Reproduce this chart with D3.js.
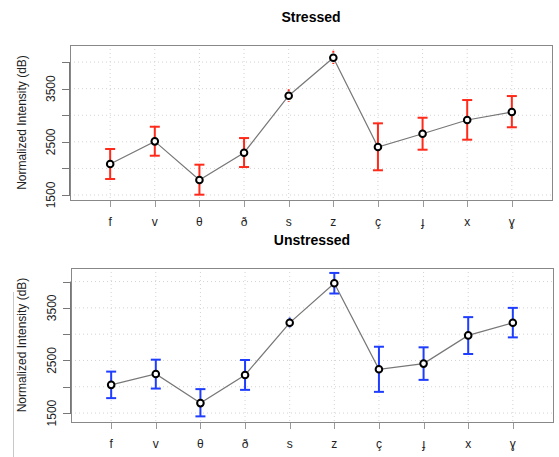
<!DOCTYPE html>
<html>
<head>
<meta charset="utf-8">
<script src="https://cdn.jsdelivr.net/npm/d3@7"></script>
<style>
  body { margin: 0; background: #fff; }
  text { font-family: "Liberation Sans", Arial, sans-serif; }
</style>
</head>
<body>
<script>
// categories (consonants)
let categories = ["f", "v", "θ", "ð", "s", "z", "ç", "ɟ", "x", "ɣ"];
let yTicks = [1500, 2000, 2500, 3000, 3500, 4000];
let yLabels = [1500, 2500, 3500];

// Stressed: mean, upper, lower
let stressedMean  = [2083, 2509, 1782, 2296, 3367, 4081, 2402, 2652, 2910, 3060];
let stressedUpper = [2365, 2784, 2070, 2571, 3487, 4212, 2848, 2953, 3286, 3361];
let stressedLower = [1801, 2239, 1506, 2026, 3248, 3962, 1965, 2352, 2540, 2774];

// Unstressed
let unstressedMean  = [2036, 2244, 1689, 2225, 3216, 3968, 2333, 2440, 2977, 3216];
let unstressedUpper = [2288, 2515, 1955, 2509, 3318, 4164, 2761, 2750, 3324, 3500];
let unstressedLower = [1784, 1966, 1437, 1941, 3102, 3773, 1903, 2131, 2623, 2939];

let W = 559, H = 457;
let svg = d3.select("body").append("svg")
    .attr("width", W)
    .attr("height", H);

// faint line on left of lower panel
svg.append("line")
    .attr("x1", 13.5).attr("x2", 13.5)
    .attr("y1", 292).attr("y2", H)
    .attr("stroke", "#c8c8c8");

function panel(opt) {
  let x = d3.scaleLinear().domain([0.1, 10.9]).range([opt.left, opt.right]);
  let y = d3.scaleLinear().domain(opt.ylim).range([opt.bottom, opt.top]);
  let g = svg.append("g");
  let idx = categories.map(function(d, i) { return i + 1; });

  // grid
  g.selectAll(".vg").data(idx).enter().append("line")
      .attr("x1", function(d) { return x(d); }).attr("x2", function(d) { return x(d); })
      .attr("y1", opt.top).attr("y2", opt.bottom)
      .attr("stroke", "#d3d3d3").attr("stroke-dasharray", "1,3");
  g.selectAll(".hg").data(yTicks).enter().append("line")
      .attr("x1", opt.left).attr("x2", opt.right)
      .attr("y1", function(d) { return y(d); }).attr("y2", function(d) { return y(d); })
      .attr("stroke", "#d3d3d3").attr("stroke-dasharray", "1,3");

  // y axis ticks
  g.selectAll(".yt").data(yTicks).enter().append("line")
      .attr("x1", opt.left - 8).attr("x2", opt.left)
      .attr("y1", function(d) { return Math.round(y(d)) + 0.5; })
      .attr("y2", function(d) { return Math.round(y(d)) + 0.5; })
      .attr("stroke", "#777");
  g.append("line")
      .attr("x1", opt.left - 0.5).attr("x2", opt.left - 0.5)
      .attr("y1", y(1500)).attr("y2", y(4000))
      .attr("stroke", "#777");
  g.selectAll(".yl").data(yLabels).enter().append("text")
      .attr("transform", function(d) { return "translate(" + (opt.left - 15) + "," + y(d) + ") rotate(-90)"; })
      .attr("text-anchor", "middle")
      .attr("font-size", 12)
      .attr("fill", "#222")
      .text(function(d) { return d; });

  // x axis ticks
  g.selectAll(".xt").data(idx).enter().append("line")
      .attr("x1", function(d) { return Math.round(x(d)) + 0.5; })
      .attr("x2", function(d) { return Math.round(x(d)) + 0.5; })
      .attr("y1", opt.bottom).attr("y2", opt.bottom + 7)
      .attr("stroke", "#999");
  g.selectAll(".xl").data(categories).enter().append("text")
      .attr("x", function(d, i) { return x(i + 1); })
      .attr("y", opt.bottom + 26)
      .attr("text-anchor", "middle")
      .attr("font-size", 12)
      .attr("fill", "#222")
      .text(function(d) { return d; });

  // box
  g.append("rect")
      .attr("x", opt.left + 0.5).attr("y", opt.top + 0.5)
      .attr("width", opt.right - opt.left).attr("height", opt.bottom - opt.top)
      .attr("fill", "none").attr("stroke", "#888");

  // error bars
  let eb = g.selectAll(".eb").data(idx).enter().append("g");
  eb.append("line")
      .attr("x1", function(d) { return x(d); }).attr("x2", function(d) { return x(d); })
      .attr("y1", function(d) { return y(opt.upper[d - 1]); })
      .attr("y2", function(d) { return y(opt.lower[d - 1]); })
      .attr("stroke", opt.color).attr("stroke-width", 2)
      .attr("stroke-dasharray", function(d) {
        return (y(opt.lower[d - 1]) - y(opt.upper[d - 1])) < 18 ? "2,2" : null;
      });
  [opt.upper, opt.lower].forEach(function(arr) {
    eb.filter(function(d) { return (y(opt.lower[d - 1]) - y(opt.upper[d - 1])) >= 18; })
      .append("line")
      .attr("x1", function(d) { return x(d) - 5; }).attr("x2", function(d) { return x(d) + 5; })
      .attr("y1", function(d) { return y(arr[d - 1]); })
      .attr("y2", function(d) { return y(arr[d - 1]); })
      .attr("stroke", opt.color).attr("stroke-width", 2);
  });

  // mean line
  let line = d3.line()
      .x(function(d, i) { return x(i + 1); })
      .y(function(d) { return y(d); });
  g.append("path")
      .datum(opt.mean)
      .attr("d", line)
      .attr("fill", "none")
      .attr("stroke", "#777")
      .attr("stroke-width", 1.2);
  g.selectAll(".pt").data(opt.mean).enter().append("circle")
      .attr("cx", function(d, i) { return x(i + 1); })
      .attr("cy", function(d) { return y(d); })
      .attr("r", 3.3)
      .attr("fill", "#fff")
      .attr("stroke", "#000")
      .attr("stroke-width", 2);

  // title
  svg.append("text")
      .attr("x", (opt.left + opt.right) / 2)
      .attr("y", opt.titleY)
      .attr("text-anchor", "middle")
      .attr("font-size", 14)
      .attr("font-weight", "bold")
      .text(opt.title);

  // y label
  svg.append("text")
      .attr("transform", "translate(26," + (opt.top + opt.bottom) / 2 + ") rotate(-90)")
      .attr("text-anchor", "middle")
      .attr("font-size", 12)
      .attr("fill", "#222")
      .text("Normalized Intensity (dB)");
}

panel({
  left: 70, right: 552, top: 45, bottom: 200,
  ylim: [1406, 4321],
  mean: stressedMean, upper: stressedUpper, lower: stressedLower,
  color: "#ff2a1a", title: "Stressed", titleY: 22
});

panel({
  left: 71, right: 553, top: 268, bottom: 422,
  ylim: [1330, 4258],
  mean: unstressedMean, upper: unstressedUpper, lower: unstressedLower,
  color: "#1f3dff", title: "Unstressed", titleY: 245
});
</script>
</body>
</html>
